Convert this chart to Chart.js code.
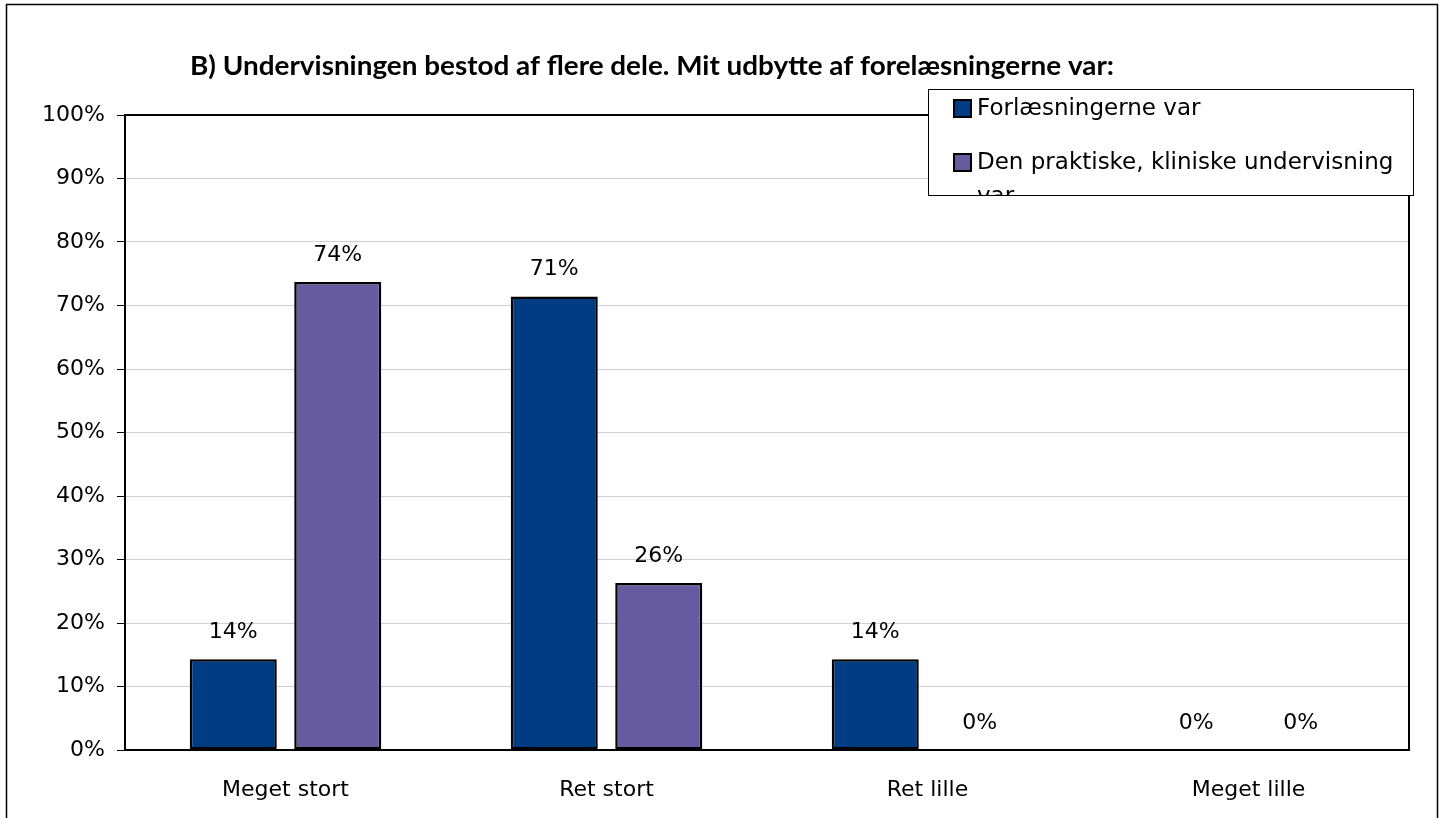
<!DOCTYPE html>
<html lang="da">
<head>
  <meta charset="UTF-8">
  <title>Undervisningen bestod af flere dele</title>
  <script src="https://cdn.jsdelivr.net/npm/chart.js"></script>
  <style>
    html, body { margin: 0; padding: 0; background: #fff; }
    canvas { display: block; }
  </style>
</head>
<body>
  <canvas id="grafik" width="1447" height="818"></canvas>

  <script>
    // Data
    const kategorier = ['Meget stort', 'Ret stort', 'Ret lille', 'Meget lille'];
    const serieNavne = ['Forlæsningerne var', 'Den praktiske, kliniske undervisning var'];
    const forelaesninger = [14.3, 71.4, 14.3, 0];
    const praktisk = [73.7, 26.3, 0, 0];
    const yTicks = [0, 10, 20, 30, 40, 50, 60, 70, 80, 90, 100];
    const titel = 'B) Undervisningen bestod af flere dele. Mit udbytte af forelæsningerne var:';

    const FONT = '"DejaVu Sans", sans-serif';
    const farver = ['#003C84', '#675BA0'];

    // Ramme, titel, værdier og forklaring tegnes her
    const tegnExtra = {
      id: 'tegnExtra',
      afterDraw(chart) {
        const ctx = chart.ctx;
        const a = chart.chartArea;
        ctx.save();

        // ydre ramme
        ctx.strokeStyle = '#000';
        ctx.lineWidth = 1.5;
        ctx.strokeRect(6.5, 4.5, 1431, 840);

        // plotramme
        ctx.lineWidth = 2;
        ctx.strokeRect(a.left, a.top, a.right - a.left, a.bottom - a.top);

        // titel
        ctx.fillStyle = '#000';
        ctx.font = 'bold 27px Lato, ' + FONT;
        let w = ctx.measureText(titel).width;
        ctx.textAlign = 'center';
        ctx.textBaseline = 'middle';
        ctx.save();
        ctx.translate(652, 66);
        ctx.scale(924 / w, 1);
        ctx.fillText(titel, 0, 0);
        ctx.restore();

        // værdier over søjlerne
        ctx.font = '22px ' + FONT;
        chart.data.datasets.forEach((ds, i) => {
          chart.getDatasetMeta(i).data.forEach((bar, j) => {
            ctx.fillText(Math.round(ds.data[j]) + '%', bar.x, bar.y - 27);
          });
        });

        // forklaring
        const lx = 928, ly = 89, lw = 485, lh = 106;
        ctx.fillStyle = '#fff';
        ctx.fillRect(lx, ly, lw, lh);
        ctx.strokeStyle = '#000';
        ctx.lineWidth = 1;
        ctx.strokeRect(lx + 0.5, ly + 0.5, lw, lh);
        ctx.save();
        ctx.beginPath();
        ctx.rect(lx, ly, lw, lh);
        ctx.clip();
        ctx.textAlign = 'left';
        ctx.font = '23px ' + FONT;
        const linjer = [
          [serieNavne[0]],
          ['Den praktiske, kliniske undervisning', 'var']
        ];
        const ys = [109, 163];
        chart.data.datasets.forEach((ds, i) => {
          ctx.fillStyle = ds.backgroundColor;
          ctx.fillRect(954, ys[i] - 9, 17, 17);
          ctx.lineWidth = 2;
          ctx.strokeStyle = '#000';
          ctx.strokeRect(954, ys[i] - 9, 17, 17);
          ctx.fillStyle = '#000';
          linjer[i].forEach((t, k) => {
            ctx.fillText(t, 977, ys[i] + k * 34);
          });
        });
        ctx.restore();

        ctx.restore();
      }
    };

    const ctx = document.getElementById('grafik').getContext('2d');
    const grafik = new Chart(ctx, {
      type: 'bar',
      data: {
        labels: kategorier,
        datasets: [{
          label: serieNavne[0],
          data: forelaesninger,
          backgroundColor: farver[0],
          borderColor: '#000',
          borderWidth: 2.5,
          borderSkipped: false
        }, {
          label: serieNavne[1],
          data: praktisk,
          backgroundColor: farver[1],
          borderColor: '#000',
          borderWidth: 2.5,
          borderSkipped: false
        }]
      },
      options: {
        responsive: false,
        animation: false,
        categoryPercentage: 0.651,
        barPercentage: 0.833,
        layout: { padding: { top: 115, right: 38, left: 0, bottom: 0 } },
        scales: {
          x: {
            grid: { display: false, drawTicks: false },
            border: { display: false },
            ticks: { color: '#000', font: { family: FONT, size: 22 }, padding: 27 },
            afterFit(scale) { scale.height = 68; }
          },
          y: {
            min: 0,
            max: 100,
            afterBuildTicks(scale) { scale.ticks = yTicks.map(v => ({ value: v })); },
            grid: { color: '#d0d0d0', tickColor: '#000', tickLength: 8, lineWidth: 1 },
            border: { display: false },
            ticks: {
              color: '#000',
              font: { family: FONT, size: 22 },
              padding: 12,
              callback: v => v + '%'
            },
            afterFit(scale) { scale.width = 125; }
          }
        },
        plugins: {
          legend: { display: false },
          title: { display: false },
          tooltip: { enabled: false }
        }
      },
      plugins: [tegnExtra]
    });
  </script>
</body>
</html>
